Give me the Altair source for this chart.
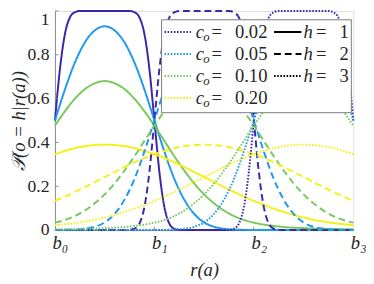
import altair as alt
import pandas as pd

# ---------------- data ----------------
c_values = ["0.02", "0.05", "0.10", "0.20"]
h_values = ["1", "2", "3"]
colors = ["#3d27a8", "#1f99ee", "#78c85a", "#f4f214"]
x_tick_values = [0, 1, 2, 3]
x_tick_labels = ["b₀", "b₁", "b₂", "b₃"]
y_tick_values = [0, 0.2, 0.4, 0.6, 0.8, 1.0]

# c_o = 0.02 (sharp curves, read on a finer x grid)
x_002_h1 = [0, 0.05, 0.1, 0.15, 0.2, 0.25, 0.75, 0.8, 0.85, 0.9, 0.95, 1.0, 1.05, 1.1, 1.15, 1.2, 1.25, 1.3, 3.0]
p_002_h1 = [0.5, 0.734, 0.894, 0.97, 0.994, 1.0, 1.0, 0.994, 0.97, 0.894, 0.734, 0.5, 0.266, 0.106, 0.03, 0.006, 0.001, 0.0, 0.0]
x_002_h2 = [0, 0.7, 0.75, 0.8, 0.85, 0.9, 0.95, 1.0, 1.05, 1.1, 1.15, 1.2, 1.25,
            1.75, 1.8, 1.85, 1.9, 1.95, 2.0, 2.05, 2.1, 2.15, 2.2, 2.25, 2.3, 3.0]
p_002_h2 = [0, 0, 0.001, 0.006, 0.03, 0.106, 0.266, 0.5, 0.734, 0.894, 0.97, 0.994, 1.0,
            1.0, 0.994, 0.97, 0.894, 0.734, 0.5, 0.266, 0.106, 0.03, 0.006, 0.001, 0, 0]
x_002_h3 = [0, 1.7, 1.75, 1.8, 1.85, 1.9, 1.95, 2.0, 2.05, 2.1, 2.15, 2.2, 2.25, 2.75, 2.8, 2.85, 2.9, 2.95, 3.0]
p_002_h3 = [0, 0, 0.001, 0.006, 0.03, 0.106, 0.266, 0.5, 0.734, 0.894, 0.97, 0.994, 1.0, 1.0, 0.994, 0.97, 0.894, 0.734, 0.5]

# common x grid for the wider curves
x_grid = [0.0, 0.1, 0.2, 0.3, 0.4, 0.5, 0.6, 0.7, 0.8, 0.9, 1.0, 1.1, 1.2, 1.3, 1.4, 1.5,
          1.6, 1.7, 1.8, 1.9, 2.0, 2.1, 2.2, 2.3, 2.4, 2.5, 2.6, 2.7, 2.8, 2.9, 3.0]

p_005_h1 = [0.5, 0.641, 0.764, 0.856, 0.911, 0.930, 0.911, 0.856, 0.764, 0.641, 0.5, 0.359, 0.234, 0.139, 0.074, 0.035,
            0.015, 0.006, 0.002, 0.001, 0, 0, 0, 0, 0, 0, 0, 0, 0, 0, 0]
p_005_h2 = [0, 0.001, 0.002, 0.006, 0.015, 0.035, 0.074, 0.139, 0.234, 0.359, 0.5, 0.641, 0.764, 0.856, 0.911, 0.930,
            0.911, 0.856, 0.764, 0.641, 0.5, 0.359, 0.234, 0.139, 0.074, 0.035, 0.015, 0.006, 0.002, 0.001, 0]
p_005_h3 = [0, 0, 0, 0, 0, 0, 0, 0, 0, 0, 0, 0.001, 0.002, 0.006, 0.015, 0.035,
            0.074, 0.139, 0.234, 0.359, 0.5, 0.641, 0.764, 0.856, 0.911, 0.930, 0.911, 0.856, 0.764, 0.641, 0.5]

p_010_h1 = [0.477, 0.542, 0.599, 0.643, 0.670, 0.680, 0.670, 0.643, 0.599, 0.542, 0.477, 0.407, 0.337, 0.272, 0.213, 0.163,
            0.122, 0.089, 0.064, 0.046, 0.034, 0.025, 0.019, 0.014, 0.011, 0.009, 0.007, 0.006, 0.005, 0.004, 0.004]
p_010_h2 = [0.034, 0.046, 0.064, 0.089, 0.122, 0.163, 0.213, 0.272, 0.337, 0.407, 0.477, 0.542, 0.599, 0.643, 0.670, 0.680,
            0.670, 0.643, 0.599, 0.542, 0.477, 0.407, 0.337, 0.272, 0.213, 0.163, 0.122, 0.089, 0.064, 0.046, 0.034]
p_010_h3 = [0.004, 0.004, 0.005, 0.006, 0.007, 0.009, 0.011, 0.014, 0.019, 0.025, 0.034, 0.046, 0.064, 0.089, 0.122, 0.163,
            0.213, 0.272, 0.337, 0.407, 0.477, 0.542, 0.599, 0.643, 0.670, 0.680, 0.670, 0.643, 0.599, 0.542, 0.477]

p_020_h1 = [0.346, 0.361, 0.374, 0.383, 0.388, 0.390, 0.388, 0.383, 0.374, 0.361, 0.346, 0.329, 0.309, 0.288, 0.265, 0.242,
            0.219, 0.196, 0.174, 0.153, 0.133, 0.115, 0.098, 0.083, 0.069, 0.058, 0.047, 0.039, 0.032, 0.027, 0.022]
p_020_h2 = [0.133, 0.153, 0.174, 0.196, 0.219, 0.242, 0.265, 0.288, 0.309, 0.329, 0.346, 0.361, 0.374, 0.383, 0.388, 0.390,
            0.388, 0.383, 0.374, 0.361, 0.346, 0.329, 0.309, 0.288, 0.265, 0.242, 0.219, 0.196, 0.174, 0.153, 0.133]
p_020_h3 = [0.022, 0.027, 0.032, 0.039, 0.047, 0.058, 0.069, 0.083, 0.098, 0.115, 0.133, 0.153, 0.174, 0.196, 0.219, 0.242,
            0.265, 0.288, 0.309, 0.329, 0.346, 0.361, 0.374, 0.383, 0.388, 0.390, 0.388, 0.383, 0.374, 0.361, 0.346]

curves = [
    ("0.02", "1", x_002_h1, p_002_h1), ("0.05", "1", x_grid, p_005_h1),
    ("0.10", "1", x_grid, p_010_h1), ("0.20", "1", x_grid, p_020_h1),
    ("0.02", "2", x_002_h2, p_002_h2), ("0.05", "2", x_grid, p_005_h2),
    ("0.10", "2", x_grid, p_010_h2), ("0.20", "2", x_grid, p_020_h2),
    ("0.02", "3", x_002_h3, p_002_h3), ("0.05", "3", x_grid, p_005_h3),
    ("0.10", "3", x_grid, p_010_h3), ("0.20", "3", x_grid, p_020_h3),
]

rows = []
for c, h, xs, ps in curves:
    for xv, pv in zip(xs, ps):
        rows.append({"x": xv, "p": pv, "c": c, "h": h, "k": c + "-" + h})
df = pd.DataFrame(rows)

FONT = "Liberation Serif"
TXT = "#262626"
AX = "#8c8c8c"

color_scale = alt.Scale(domain=c_values, range=colors)
dash_scale = alt.Scale(domain=h_values, range=[[1, 0], [7, 4], [1.6, 1.6]])
x_scale = alt.Scale(domain=[0, 3], nice=False, zero=False)
y_scale = alt.Scale(domain=[0, 1], nice=False)

label_expr = "[" + ",".join("'" + s + "'" for s in x_tick_labels) + "][datum.index * 3]"

x_axis = alt.Axis(
    values=x_tick_values, labelExpr=label_expr, grid=False, tickSize=0,
    labelFont=FONT, labelFontSize=19, labelFontStyle="italic", labelColor=TXT,
    labelAlign="left", labelOffset=-3, labelFlush=False, labelPadding=4,
    domainColor=AX, domainWidth=1,
    title="r(a)", titleFont=FONT, titleFontSize=19, titleFontStyle="italic",
    titleFontWeight="normal", titleColor=TXT, titleY=40, titleBaseline="middle",
)
y_axis = alt.Axis(
    values=y_tick_values, format="~g", grid=False, tickSize=0,
    labelFont=FONT, labelFontSize=18, labelColor=TXT, labelPadding=6,
    labelBaseline={"condition": {"test": "datum.value === 1", "value": "top"}, "value": "middle"},
    domainColor=AX, domainWidth=1,
    title="𝒫(o = h|r(a))", titleFont=FONT, titleFontSize=19, titleFontStyle="italic",
    titleFontWeight="normal", titleColor=TXT, titleX=-37, titleY=112,
    titleAngle=270, titleAlign="center", titleBaseline="middle",
)

lines = alt.Chart(df).mark_line(strokeWidth=2, interpolate="monotone").encode(
    x=alt.X("x:Q", scale=x_scale, axis=x_axis),
    y=alt.Y("p:Q", scale=y_scale, axis=y_axis),
    color=alt.Color("c:N", scale=color_scale, legend=None),
    strokeDash=alt.StrokeDash("h:N", scale=dash_scale, legend=None),
    detail="k:N",
)

# inward tick marks (same field names as the lines so the axes merge cleanly)
xt = pd.DataFrame({"x": x_tick_values[1:-1]})
yt = pd.DataFrame({"p": y_tick_values[1:]})
xticks = alt.Chart(xt).mark_rule(color=AX, strokeWidth=1).encode(
    x=alt.X("x:Q", scale=x_scale, axis=x_axis), y=alt.value(224), y2=alt.value(220.5))
yticks = alt.Chart(yt).mark_rule(color=AX, strokeWidth=1).encode(
    y=alt.Y("p:Q", scale=y_scale, axis=y_axis), x=alt.value(0), x2=alt.value(3.5))

# legend (drawn as marks)
row_y = [21.5, 44, 66.5, 89]
box = alt.Chart(pd.DataFrame({"lx": [109], "lx2": [303], "ly": [9], "ly2": [104]})).mark_rect(
    fill="white", stroke="#7a7a7a", strokeWidth=1).encode(
    x=alt.X("lx:Q", scale=None), x2="lx2", y=alt.Y("ly:Q", scale=None), y2="ly2")

c_samples = pd.DataFrame({"lx": [112] * 4, "lx2": [139] * 4, "ly": row_y, "c": c_values, "h": ["3"] * 4})
h_samples = pd.DataFrame({"lx": [224] * 3, "lx2": [252] * 3, "ly": row_y[:3], "h": h_values})
samp_c = alt.Chart(c_samples).mark_rule(strokeWidth=2).encode(
    x=alt.X("lx:Q", scale=None), x2="lx2", y=alt.Y("ly:Q", scale=None),
    color=alt.Color("c:N", scale=color_scale, legend=None),
    strokeDash=alt.StrokeDash("h:N", scale=dash_scale, legend=None))
samp_h = alt.Chart(h_samples).mark_rule(strokeWidth=2, color="black").encode(
    x=alt.X("lx:Q", scale=None), x2="lx2", y=alt.Y("ly:Q", scale=None),
    strokeDash=alt.StrokeDash("h:N", scale=dash_scale, legend=None))

ital = pd.DataFrame({"lx": [144] * 4 + [254] * 3, "ly": row_y + row_y[:3], "t": ["c"] * 4 + ["h"] * 3})
subs = pd.DataFrame({"lx": [151.5] * 4, "ly": [v + 5 for v in row_y], "t": ["o"] * 4})
upr = pd.DataFrame({"lx": [160] * 4 + [184] * 4 + [267] * 3 + [291] * 3,
                    "ly": row_y + row_y + row_y[:3] + row_y[:3],
                    "t": ["="] * 4 + c_values + ["="] * 3 + h_values})

def txt(d, size, style):
    return alt.Chart(d).mark_text(font=FONT, fontSize=size, fontStyle=style, color=TXT,
                                  align="left", baseline="middle").encode(
        x=alt.X("lx:Q", scale=None), y=alt.Y("ly:Q", scale=None), text="t:N")

chart = alt.layer(
    lines, xticks, yticks, box, samp_c, samp_h,
    txt(ital, 19, "italic"), txt(subs, 13, "italic"), txt(upr, 19, "normal"),
).properties(
    width=305, height=224,
    padding={"left": 48, "top": 0, "right": 13, "bottom": 48},
    autosize=alt.AutoSizeParams(type="none"),
).configure_view(stroke=None).configure(background="white")

chart.save("out.html", embed_options={"renderer": "svg", "actions": False})
